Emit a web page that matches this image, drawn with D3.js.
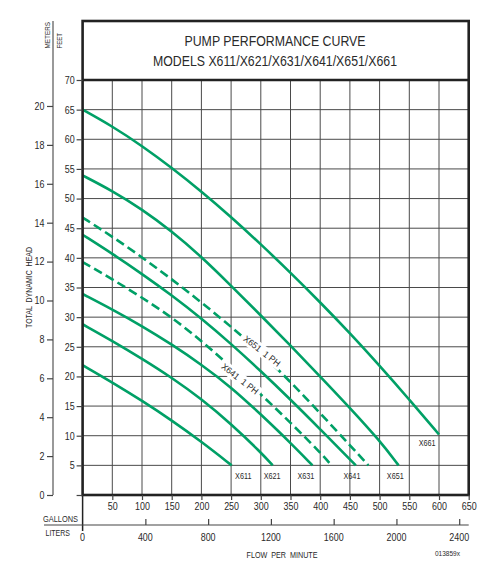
<!DOCTYPE html>
<html><head><meta charset="utf-8">
<script src="https://cdn.jsdelivr.net/npm/d3@7"></script>
<style>
body{margin:0;background:#fff}
svg{display:block}
text{font-family:"Liberation Sans Narrow","Arial Narrow","Liberation Sans",Arial,sans-serif;fill:#2a2a2a}
</style></head><body>
<svg width="493" height="569"></svg>
<script>
// ---- data ----
const gallonTicks = [50,100,150,200,250,300,350,400,450,500,550,600,650];
const literTicks = [0,400,800,1200,1600,2000,2400];
const feetTicks = [0,5,10,15,20,25,30,35,40,45,50,55,60,65,70];
const meterTicks = [0,2,4,6,8,10,12,14,16,18,20];

const x611 = [[0,21.9],[50,19],[100,15.9],[150,12.6],[200,9],[251,5]];
const x621 = [[0,28.8],[50,26],[100,23],[150,19.8],[200,16.2],[250,12],[300,7.2],[320,5]];
const x631 = [[0,33.9],[50,31.3],[100,28.5],[150,25.4],[200,22],[250,18.2],[300,13.6],[350,8.8],[387,5]];
const x641onePh = [[0,39.3],[50,36.4],[100,33.3],[150,30],[200,26],[250,21.6],[300,17],[350,12.2],[400,7.2],[419,5]];
const x641 = [[0,43.9],[50,40.7],[100,37.3],[150,33.7],[200,29.8],[250,25.5],[300,20.9],[350,16.1],[400,11.1],[450,6],[460,5]];
const x651onePh = [[0,46.8],[50,43.6],[100,40.1],[150,36.4],[200,32.5],[250,28.4],[300,24],[350,19.1],[400,13.8],[450,8.4],[481,5]];
const x651 = [[0,53.9],[50,51.3],[100,48.2],[150,44.5],[200,40.2],[250,35.3],[300,30.3],[350,25.2],[400,20],[450,14.7],[500,9.2],[532,5]];
const x661 = [[0,65],[50,62.2],[100,58.9],[150,55.2],[200,51.2],[250,46.9],[300,42.3],[350,37.5],[400,32.5],[450,27.3],[500,21.8],[550,16.1],[600,10.2]];

const solidSeries = [x611, x621, x631, x641, x651, x661];
const dashedSeries = [x641onePh, x651onePh];

const endLabels = ["X611","X621","X631","X641","X651","X661"];
const endLabelFlow = [270.5,319,376,453.5,526.4,580];
const endLabelHead = [3.2,3.2,3.2,3.2,3.2,8.7];

const phLabels = ["X651  1 PH","X641  1 PH"];
const phLabelFlow = [302,265];
const phLabelHead = [24.3,19.6];

// ---- drawing ----
const svg = d3.select("svg");
const GREEN = "#00a066";
const x = d3.scaleLinear().domain([0,650]).range([82.6,468.7]);
const y = d3.scaleLinear().domain([0,70]).range([495,80]);
const yM = d3.scaleLinear().domain([0,70/3.28084]).range([495,80]);
const xL = d3.scaleLinear().domain([0,650*3.78541]).range([82.6,468.7]);

// grid
const grid = svg.append("g").attr("stroke","#4a4a4a").attr("stroke-width",1);
grid.selectAll(".gv").data(gallonTicks.filter(d=>d<650)).join("line")
  .attr("x1",d=>x(d)).attr("x2",d=>x(d)).attr("y1",y(70)).attr("y2",y(0));
grid.selectAll(".gh").data(feetTicks.filter(d=>d>0&&d<70)).join("line")
  .attr("x1",x(0)).attr("x2",x(650)).attr("y1",d=>y(d)).attr("y2",d=>y(d));

// curves
const line = d3.line().x(d=>x(d[0])).y(d=>y(d[1])).curve(d3.curveBasis);
svg.append("g").selectAll("path").data(solidSeries).join("path")
  .attr("d",line).attr("fill","none").attr("stroke",GREEN).attr("stroke-width",2.6);
svg.append("g").selectAll("path").data(dashedSeries).join("path")
  .attr("d",line).attr("fill","none").attr("stroke",GREEN).attr("stroke-width",2.6)
  .attr("stroke-dasharray","9,4.5");

// 1 PH labels
const phg = svg.append("g").selectAll("g").data(phLabels).join("g")
  .attr("transform",(d,i)=>`translate(${x(phLabelFlow[i])},${y(phLabelHead[i])}) rotate(38)`);
phg.append("rect").attr("fill","#fff");
phg.append("text").text(d=>d).attr("text-anchor","middle").attr("dy","0.35em")
  .attr("font-size",9).style("white-space","pre").attr("data-w",44);
phg.each(function(){
  const g=d3.select(this);
  g.select("rect").attr("x",-25).attr("y",-6).attr("width",50).attr("height",12);
});

// end labels
svg.append("g").selectAll("text").data(endLabels).join("text")
  .attr("x",(d,i)=>x(endLabelFlow[i])).attr("y",(d,i)=>y(endLabelHead[i]))
  .attr("dy","0.35em").attr("text-anchor","middle").attr("font-size",8.5).text(d=>d);

// frame
const frame = svg.append("g").attr("stroke","#222").attr("fill","none");
frame.append("rect").attr("x",x(0)).attr("y",21).attr("width",x(650)-x(0)).attr("height",y(0)-21).attr("stroke-width",2.6);
frame.append("line").attr("x1",x(0)).attr("x2",x(650)).attr("y1",y(70)).attr("y2",y(70)).attr("stroke-width",2.6);
frame.append("line").attr("x1",x(0)).attr("x2",x(0)).attr("y1",y(0)).attr("y2",531).attr("stroke-width",1.5);
frame.append("line").attr("x1",53).attr("x2",53).attr("y1",21).attr("y2",y(0)).attr("stroke","#555").attr("stroke-width",1.2);
frame.append("line").attr("x1",44).attr("x2",x(650)).attr("y1",525).attr("y2",525).attr("stroke","#444").attr("stroke-width",1.2);

// title
svg.append("text").attr("x",275).attr("y",45.5).attr("text-anchor","middle").attr("font-size",15)
  .attr("data-w",181).text("PUMP PERFORMANCE CURVE");
svg.append("text").attr("x",275).attr("y",65.5).attr("text-anchor","middle").attr("font-size",15)
  .attr("data-w",244).text("MODELS X611/X621/X631/X641/X651/X661");

// axes
function styleAxis(g, fs){
  g.select(".domain").remove();
  g.selectAll(".tick line").attr("stroke","#444").attr("stroke-width",1.2);
  g.selectAll(".tick text").attr("font-size",fs).attr("fill","#2a2a2a")
    .attr("font-family",'"Liberation Sans Narrow","Arial Narrow","Liberation Sans",sans-serif');
}
const feetAxis = svg.append("g").attr("transform",`translate(${x(0)},0)`)
  .call(d3.axisLeft(y).tickValues(feetTicks).tickSize(6).tickPadding(2).tickFormat(d=>d===0?"":d));
styleAxis(feetAxis,10.5);
const meterAxis = svg.append("g").attr("transform","translate(53,0)")
  .call(d3.axisLeft(yM).tickValues(meterTicks).tickSize(6).tickPadding(2.5));
styleAxis(meterAxis,10.5);
const galAxis = svg.append("g").attr("transform",`translate(0,${y(0)})`)
  .call(d3.axisBottom(x).tickValues(gallonTicks).tickSize(5).tickPadding(3));
styleAxis(galAxis,10.5);
const litAxis = svg.append("g").attr("transform","translate(0,525)")
  .call(d3.axisTop(xL).tickValues(literTicks.filter(d=>d>0)).tickSize(6).tickFormat(""));
styleAxis(litAxis,10.5);
svg.append("g").selectAll("text").data(literTicks).join("text")
  .attr("x",d=>xL(d)).attr("y",541).attr("text-anchor","middle").attr("font-size",10.5).text(d=>d);

// axis titles
svg.append("text").attr("transform","translate(50,48.5) rotate(-90)").attr("font-size",8).attr("data-w",26.5).text("METERS");
svg.append("text").attr("transform","translate(62,48.5) rotate(-90)").attr("font-size",8).attr("data-w",15.5).text("FEET");
svg.append("text").attr("transform","translate(31.5,287.5) rotate(-90)").attr("text-anchor","middle")
  .attr("font-size",9).attr("data-w",81).style("white-space","pre").text("TOTAL  DYNAMIC  HEAD");
svg.append("text").attr("x",43).attr("y",521.5).attr("font-size",8.5).attr("data-w",35).text("GALLONS");
svg.append("text").attr("x",45.5).attr("y",535.5).attr("font-size",8.5).attr("data-w",24.5).text("LITERS");
svg.append("text").attr("x",282).attr("y",557.5).attr("text-anchor","middle").attr("font-size",9)
  .attr("data-w",71).style("white-space","pre").text("FLOW  PER  MINUTE");
svg.append("text").attr("x",447.5).attr("y",556).attr("text-anchor","middle").attr("font-size",6.5)
  .attr("data-w",25).text("013859x");

// condense all text (narrow face not guaranteed)
svg.selectAll("text").each(function(){
  const len = this.getComputedTextLength();
  if(!len) return;
  const w = this.getAttribute("data-w");
  this.setAttribute("textLength", w ? +w : len*0.85);
  this.setAttribute("lengthAdjust","spacingAndGlyphs");
});
</script></body></html>
